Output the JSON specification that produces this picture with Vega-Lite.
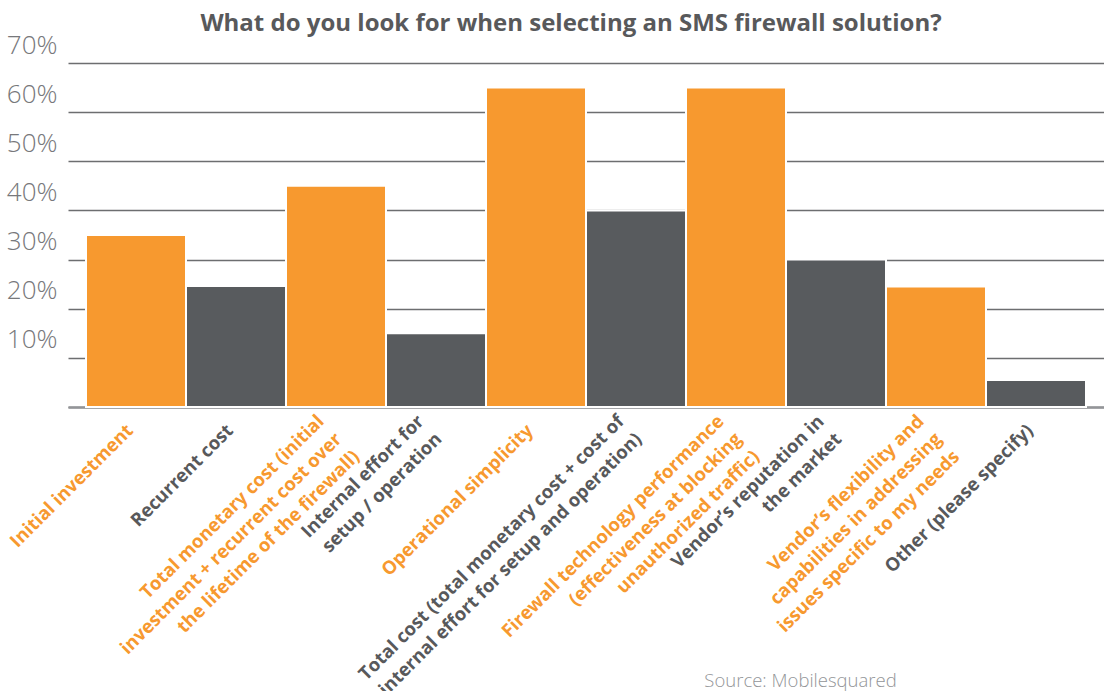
{
  "$schema": "https://vega.github.io/schema/vega-lite/v6.json",
  "width": 1036,
  "height": 344,
  "autosize": {"type": "none"},
  "padding": {"left": 68, "top": 63, "right": 0, "bottom": 284},
  "background": "white",
  "config": {
    "font": "Open Sans",
    "view": {"stroke": null}
  },
  "title": {
    "text": "What do you look for when selecting an SMS firewall solution?",
    "fontSize": 24,
    "fontWeight": "bold",
    "color": "#58595b",
    "anchor": "middle",
    "dx": -15,
    "dy": 4,
    "offset": 0
  },
  "data": {
    "values": [
      {"question": "Initial investment", "share": 35, "group": "A"},
      {"question": "Recurrent cost", "share": 24.6, "group": "B"},
      {"question": "Total monetary cost (initial\ninvestment + recurrent cost over\nthe lifetime of the firewall)", "share": 45, "group": "A"},
      {"question": "Internal effort for\nsetup / operation", "share": 15, "group": "B"},
      {"question": "Operational simplicity", "share": 65, "group": "A"},
      {"question": "Total cost (total monetary cost + cost of\ninternal effort for setup and operation)", "share": 40, "group": "B"},
      {"question": "Firewall technology performance\n(effectiveness at blocking\nunauthorized traffic)", "share": 65, "group": "A"},
      {"question": "Vendor’s reputation in\nthe market", "share": 30, "group": "B"},
      {"question": "Vendor’s flexibility and\ncapabilities in addressing\nissues specific to my needs", "share": 24.5, "group": "A"},
      {"question": "Other (please specify)", "share": 5.5, "group": "B"}
    ]
  },
  "mark": {"type": "bar", "stroke": "white", "strokeWidth": 2},
  "encoding": {
    "x": {
      "field": "question",
      "type": "nominal",
      "sort": null,
      "scale": {"paddingInner": 0, "paddingOuter": 0.18},
      "axis": {
        "title": "Source: Mobilesquared",
        "titleFont": "Open Sans",
        "titleFontWeight": 300,
        "titleFontSize": 18.5,
        "titleColor": "#939598",
        "titleAlign": "center",
        "titleAnchor": null,
        "titleBaseline": "alphabetic",
        "titleX": 732,
        "titleY": 279,
        "labelAngle": -45,
        "labelAlign": "right",
        "labelBaseline": {
          "condition": {"test": "indexof(datum.value, '\\n') >= 0", "value": "line-bottom"},
          "value": "middle"
        },
        "labelPadding": 20,
        "labelOffset": -6,
        "labelFontSize": 18.5,
        "labelFontWeight": "bold",
        "labelLineHeight": 25,
        "labelLimit": 500,
        "labelExpr": "split(datum.label, '\\n')",
        "labelColor": {
          "condition": {
            "test": "indexof(datum.value,'Initial')==0 || indexof(datum.value,'Total monetary')==0 || indexof(datum.value,'Operational')==0 || indexof(datum.value,'Firewall')==0 || indexof(datum.value,'Vendor’s flex')==0",
            "value": "#f7992f"
          },
          "value": "#58595b"
        },
        "ticks": false,
        "domainColor": "#939598",
        "domainWidth": 2.5
      }
    },
    "y": {
      "field": "share",
      "type": "quantitative",
      "scale": {"domain": [0, 70], "nice": false},
      "axis": {
        "title": null,
        "values": [0, 10, 20, 30, 40, 50, 60, 70],
        "labelExpr": "datum.value == 0 ? '' : datum.value + '%'",
        "labelFontSize": 26,
        "labelFontWeight": 300,
        "labelColor": "#77787b",
        "labelAlign": "right",
        "labelBaseline": "alphabetic",
        "labelOffset": -10,
        "labelPadding": 11,
        "ticks": false,
        "domain": false,
        "gridColor": "#6d6e70",
        "gridWidth": 1.5
      }
    },
    "color": {
      "field": "group",
      "type": "nominal",
      "scale": {"domain": ["A", "B"], "range": ["#f7992f", "#585b5e"]},
      "legend": null
    }
  }
}
